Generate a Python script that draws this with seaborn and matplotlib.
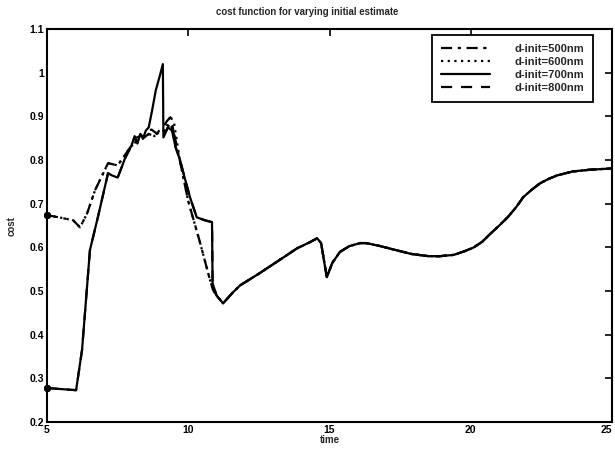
import numpy as np
import pandas as pd
import matplotlib
matplotlib.use("Agg")
import matplotlib.pyplot as plt
import seaborn as sns

# --- data -------------------------------------------------------------
# shared tail: all initial estimates converge after t ~ 11
tail_t = [11.23, 11.55, 11.83, 12.5, 13.2, 13.85, 14.3, 14.56, 14.7, 14.9,
          15.1, 15.37, 15.7, 16.08, 16.3, 16.8, 17.4, 17.9, 18.5, 18.9,
          19.4, 19.8, 20.1, 20.4, 20.7, 21.0, 21.3, 21.6, 21.85, 22.15,
          22.45, 22.75, 23.05, 23.6, 24.2, 25.0]
tail_cost = [0.472, 0.495, 0.513, 0.54, 0.57, 0.598, 0.612, 0.621, 0.61, 0.532,
             0.565, 0.59, 0.603, 0.61, 0.61, 0.603, 0.593, 0.585, 0.58, 0.58,
             0.583, 0.592, 0.6, 0.613, 0.632, 0.65, 0.669, 0.692, 0.715, 0.732,
             0.747, 0.757, 0.765, 0.774, 0.778, 0.781]

t500 = [5.0, 5.5, 5.93, 6.17, 6.42, 6.7, 7.16, 7.5, 7.7, 7.94, 8.19, 8.4,
        8.6, 8.8, 9.0, 9.2, 9.35, 9.5, 9.7, 9.99, 10.4, 10.77, 10.88, 11.0]
c500 = [0.674, 0.668, 0.662, 0.646, 0.678, 0.731, 0.793, 0.788, 0.806, 0.829,
        0.845, 0.85, 0.86, 0.855, 0.87, 0.865, 0.885, 0.86, 0.8, 0.708,
        0.615, 0.525, 0.502, 0.49]

t600 = [5.0, 5.5, 5.93, 6.17, 6.42, 6.7, 7.16, 7.5, 7.7, 7.94, 8.19, 8.4,
        8.6, 8.8, 9.0, 9.2, 9.35, 9.5, 9.7, 9.99, 10.4, 10.77, 10.88, 11.0]
c600 = [0.674, 0.668, 0.662, 0.646, 0.678, 0.731, 0.793, 0.788, 0.806, 0.829,
        0.845, 0.85, 0.86, 0.855, 0.87, 0.868, 0.902, 0.884, 0.8, 0.708,
        0.615, 0.525, 0.502, 0.49]

t700 = [5.0, 6.03, 6.24, 6.52, 6.8, 7.16, 7.3, 7.5, 7.65, 7.76, 7.94, 8.0,
        8.1, 8.2, 8.3, 8.4, 8.5, 8.6, 8.72, 8.85, 9.0, 9.1, 9.12, 9.28,
        9.42, 9.55, 9.71, 9.85, 10.06, 10.3, 10.6, 10.84, 10.86, 11.0]
c700 = [0.278, 0.273, 0.365, 0.594, 0.669, 0.77, 0.765, 0.76, 0.785, 0.804,
        0.827, 0.835, 0.855, 0.838, 0.86, 0.85, 0.868, 0.875, 0.914, 0.96,
        0.995, 1.02, 0.852, 0.875, 0.868, 0.83, 0.8, 0.765, 0.715, 0.669,
        0.662, 0.658, 0.518, 0.49]

t800 = [5.0, 6.03, 6.24, 6.52, 6.8, 7.16, 7.3, 7.5, 7.65, 7.76, 7.94, 8.1,
        8.3, 8.5, 8.7, 8.9, 9.1, 9.25, 9.4, 9.55, 9.71, 9.85, 10.06, 10.3,
        10.6, 10.84, 10.86, 11.0]
c800 = [0.278, 0.273, 0.365, 0.594, 0.669, 0.77, 0.765, 0.76, 0.785, 0.804,
        0.827, 0.85, 0.855, 0.865, 0.87, 0.86, 0.875, 0.89, 0.9, 0.83,
        0.8, 0.765, 0.715, 0.669, 0.662, 0.658, 0.518, 0.49]

labels = ["d-init=500nm", "d-init=600nm", "d-init=700nm", "d-init=800nm"]
styles = [(0, (5, 2.5, 1.5, 2.5)), (0, (1, 2)), "-", (0, (5, 4))]
heads = [(t500, c500), (t600, c600), (t700, c700), (t800, c800)]

x_ticks = [5, 10, 15, 20, 25]
y_ticks = [0.2, 0.3, 0.4, 0.5, 0.6, 0.7, 0.8, 0.9, 1.0, 1.1]
y_tick_labels = ["0.2", "0.3", "0.4", "0.5", "0.6", "0.7", "0.8", "0.9", "1", "1.1"]

# --- figure -----------------------------------------------------------
sns.set_theme(style="white")
plt.rcParams["font.family"] = ["Liberation Sans", "DejaVu Sans"]
plt.rcParams["font.weight"] = "bold"

fig = plt.figure(figsize=(6.15, 4.49), dpi=100)
ax = fig.add_axes([0.0764, 0.060, 0.919, 0.875])

for (t, c), lab, ls in zip(heads, labels, styles):
    df = pd.DataFrame({"time": list(t) + tail_t, "cost": list(c) + tail_cost})
    sns.lineplot(data=df, x="time", y="cost", ax=ax, color="black",
                 linestyle=ls, linewidth=1.6, label=lab,
                 estimator=None, sort=False)

# starting points of each run
start_df = pd.DataFrame({"time": [h[0][0] for h in heads],
                         "cost": [h[1][0] for h in heads]})
sns.scatterplot(data=start_df, x="time", y="cost", ax=ax, color="black",
                s=22, edgecolor="black", zorder=5, clip_on=False, legend=False)

ax.set_xlim(5, 25)
ax.set_ylim(0.2, 1.1)
ax.set_xticks(x_ticks)
ax.set_yticks(y_ticks)
ax.set_yticklabels(y_tick_labels)
ax.tick_params(direction="in", length=5, width=1.2, top=True, right=True,
               labelsize=7.5, pad=2, colors="black")
# keep the last x label inside the figure edge
ax.get_xticklabels()[-1].set_horizontalalignment("right")
for sp in ax.spines.values():
    sp.set_visible(True)
    sp.set_color("black")
    sp.set_linewidth(1.5)

ax.set_title("cost function for varying initial estimate", fontsize=6.9,
             fontweight="bold", pad=10, x=0.46)
ax.set_xlabel("time", fontsize=7, fontweight="bold", labelpad=0)
ax.set_ylabel("cost", fontsize=7, fontweight="bold", labelpad=9)

leg = ax.legend(loc="upper right", bbox_to_anchor=(0.966, 0.985),
                frameon=True, fancybox=False, edgecolor="black",
                fontsize=8, handlelength=4.4, handletextpad=2.2,
                labelspacing=0.28, borderpad=0.8, borderaxespad=0,
                markerfirst=True)
leg.get_frame().set_linewidth(1.3)
leg.get_frame().set_alpha(1)
for txt in leg.get_texts():
    txt.set_fontweight("bold")

fig.savefig("out.png", dpi=100, facecolor="white")
